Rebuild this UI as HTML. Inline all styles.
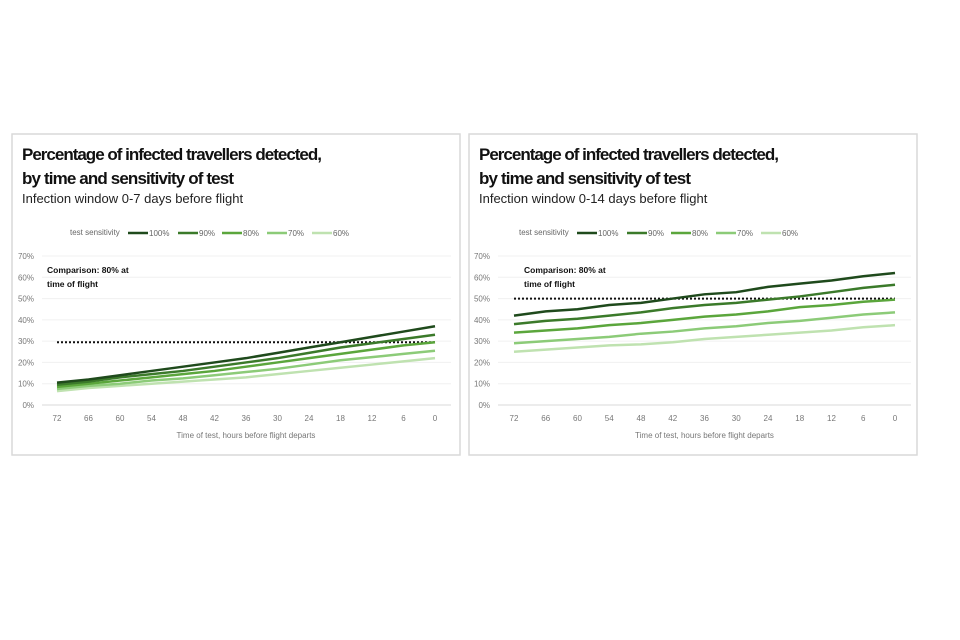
<!DOCTYPE html>
<html><head><meta charset="utf-8"><style>
body{margin:0;background:#fff;width:960px;height:640px;overflow:hidden;font-family:"Liberation Sans",sans-serif}
svg{position:absolute;left:0;top:0}
</style></head><body>
<svg id="s" width="960" height="640"></svg>
<script>
const hours=[72,66,60,54,48,42,36,30,24,18,12,6,0];
const yTicks=[0,10,20,30,40,50,60,70];
const seriesNames=["100%","90%","80%","70%","60%"];
const left100=[10.5,12,14,16,18,20,22,24.5,27,29.5,32,34.5,37];
const left90=[9.5,11,13,14.5,16,18,20,22,24.5,27,29,31,33];
const left80=[8.5,10,11.5,13,14.5,16,18,20,22,24,26,28,29.5];
const left70=[7.5,9,10,11.5,12.5,14,15.5,17,19,21,22.5,24,25.5];
const left60=[6.5,8,9,10,11,12,13,14.5,16,17.5,19,20.5,22];
const leftComparison=29.5;
const right100=[42,44,45,47,48,50,52,53,55.5,57,58.5,60.5,62];
const right90=[38,39.5,40.5,42,43.5,45.5,47,48,49.5,51,53,55,56.5];
const right80=[34,35,36,37.5,38.5,40,41.5,42.5,44,46,47,48.5,49.5];
const right70=[29,30,31,32,33.5,34.5,36,37,38.5,39.5,41,42.5,43.5];
const right60=[25,26,27,28,28.5,29.5,31,32,33,34,35,36.5,37.5];
const rightComparison=50;
const colors=["#1f4a1c","#3b7a2a","#5ba63c","#8ccb78","#bfe2b0"];
const NS="http://www.w3.org/2000/svg";
const svg=document.getElementById('s');
function mk(t,a,p,txt){const e=document.createElementNS(NS,t);for(const k in a)e.setAttribute(k,a[k]);if(txt!==undefined)e.textContent=txt;(p||svg).appendChild(e);return e;}
function draw(o){
  const g=mk('g',{});
  
  
  const b=mk('rect',{x:o.bx,y:134,width:448,height:321,fill:'#fff',stroke:'#d9d9d9','stroke-width':1.5},g);
  
  const f='"Liberation Sans","DejaVu Sans",sans-serif';
  let t=mk('text',{x:o.bx+10,y:160,'font-size':17,'font-weight':'bold',fill:'#111','font-family':f,textLength:300},g,"Percentage of infected travellers detected,");
  
  t=mk('text',{x:o.bx+10,y:184,'font-size':17,'font-weight':'bold',fill:'#111','font-family':f,textLength:212},g,"by time and sensitivity of test");
  
  t=mk('text',{x:o.bx+10,y:203,'font-size':13,fill:'#222','font-family':f},g,o.sub);
  
  t=mk('text',{x:o.lx,y:235,'font-size':8,fill:'#666','font-family':f},g,"test sensitivity");
  
  const legX=[0,50,94,139,184];
  seriesNames.forEach((n,i)=>{
    const x=o.lx+58+legX[i];
    const l=mk('line',{x1:x,x2:x+20,y1:233,y2:233,stroke:colors[i],'stroke-width':2.5},g);
    
    const tx=mk('text',{x:x+21,y:236,'font-size':8,fill:'#666','font-family':f},g,n);
    
  });
  const X=h=>o.x0+(72-h)/72*(o.x1-o.x0);
  const Y=v=>405-v/70*149;
  yTicks.forEach(v=>{
    const gl=mk('line',{x1:o.gx0,x2:o.gx1,y1:Y(v),y2:Y(v),stroke:v?'#f0f0f0':'#d9d9d9','stroke-width':1},g);
    
    const tl=mk('text',{x:o.gx0-8,y:Y(v)+3,'font-size':8,fill:'#777','text-anchor':'end','font-family':f},g,v+'%');
    
  });
  hours.forEach(h=>{
    const tl=mk('text',{x:X(h),y:421,'font-size':8,fill:'#777','text-anchor':'middle','font-family':f},g,h);
    
  });
  t=mk('text',{x:(o.x0+o.x1)/2,y:438,'font-size':8,fill:'#777','text-anchor':'middle','font-family':f},g,"Time of test, hours before flight departs");
  
  const c=mk('line',{x1:X(72),x2:X(0),y1:Y(o.comp),y2:Y(o.comp),stroke:'#111','stroke-width':2,'stroke-dasharray':'2,2'},g);
  
  let ct=mk('text',{x:o.cx,y:273,'font-size':8.5,'font-weight':'bold',fill:'#111','font-family':f},g,"Comparison:  80% at");
  
  ct=mk('text',{x:o.cx,y:287,'font-size':8.5,'font-weight':'bold',fill:'#111','font-family':f},g,"time of flight");
  
  o.data.slice().reverse().forEach((d,ri)=>{
    const i=o.data.length-1-ri;
    const p=mk('polyline',{points:d.map((v,k)=>X(hours[k])+','+Y(v)).join(' '),fill:'none',stroke:colors[i],'stroke-width':2.5},g);
    
  });
}
draw({name:'chart-0-7-days',bx:12,sub:"Infection window 0-7 days before flight",lx:70,x0:57,x1:435,gx0:42,gx1:451,comp:leftComparison,cx:47,data:[left100,left90,left80,left70,left60]});
draw({name:'chart-0-14-days',bx:469,sub:"Infection window 0-14 days before flight",lx:519,x0:514,x1:895,gx0:498,gx1:911,comp:rightComparison,cx:524,data:[right100,right90,right80,right70,right60]});
</script>
</body></html>
